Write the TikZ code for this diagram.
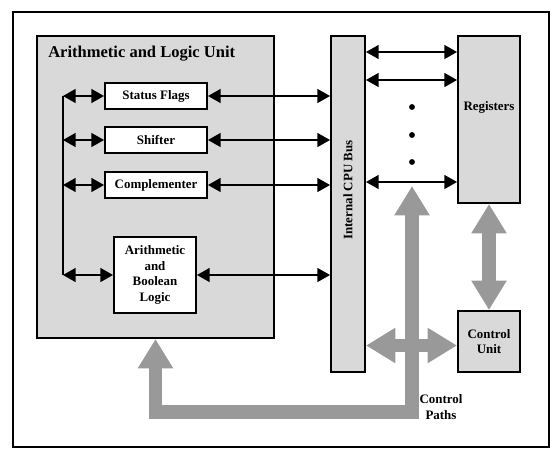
\documentclass[tikz,border=0pt]{standalone}
\usepackage{fontspec}
\setmainfont{Liberation Serif}
\usetikzlibrary{arrows.meta}

\definecolor{boxgray}{RGB}{217,217,217}
\definecolor{pathgray}{RGB}{153,153,153}
\newcommand{\labfont}{\fontsize{9.7}{11.6}\selectfont\bfseries}
\newcommand{\titlefont}{\fontsize{12.4}{14}\selectfont\bfseries}

\begin{document}
\begin{tikzpicture}[x=0.75pt, y=-0.75pt,
    unit/.style={draw, line width=1.5pt, fill=boxgray, inner sep=0pt, font=\labfont, align=center},
    part/.style={draw, line width=1.5pt, fill=white, inner sep=0pt, font=\labfont, align=center,
                 minimum width=76.5pt, minimum height=19.5pt},
    dbl/.style={line width=1.1pt, {Triangle[length=9.5pt,width=10.5pt]}-{Triangle[length=9.5pt,width=10.5pt]}},
    fat/.style={draw=pathgray, line width=10pt, line join=miter,
                {Triangle[length=22pt,width=25pt]}-{Triangle[length=22pt,width=25pt]}}]
        \useasboundingbox (0,0) rectangle (560,464);

        % Outer frame
        \draw[line width=1.5pt] (13,12) rectangle (549,447);

        % Arithmetic and logic unit
        \node[unit, minimum width=177.75pt, minimum height=226.5pt] (alu) at (155.5,187) {};
        \node[anchor=base west, font=\titlefont, inner sep=0pt] (alutitle) at (48,57) {Arithmetic and Logic Unit};

        % Internal bus, registers and control unit
        \node[unit, minimum width=25.5pt, minimum height=252pt] (bus) at (348,204) {};
        \node[rotate=90, font=\labfont] (buslabel) at (348,190) {Internal CPU Bus};
        \node[unit, minimum width=46.5pt, minimum height=125.25pt] (regs) at (489,119.5) {};
        \node[font=\labfont] (reglabel) at (489,107) {Registers};
        \node[unit, minimum width=46.5pt, minimum height=45.75pt] (cu) at (489,341.5) {Control\\Unit};

        % Parts of the ALU
        \node[part] (flags) at (156,96) {Status Flags};
        \node[part] (shift) at (156,140) {Shifter};
        \node[part] (compl) at (156,185) {Complementer};
        \node[part, minimum width=61.5pt, minimum height=57pt] (logic) at (155,275) {Arithmetic\\and\\Boolean\\Logic};

        % Local line on the left
        \coordinate (ltop) at (63,96);
        \coordinate (lbot) at (63,275);
        \draw[line width=1.1pt] (ltop) -- (lbot);
        \draw[dbl] (ltop) -- (flags.west);
        \draw[dbl] (ltop |- shift.west) -- (shift.west);
        \draw[dbl] (ltop |- compl.west) -- (compl.west);
        \draw[dbl] (lbot) -- (logic.west);

        % Links to the bus
        \foreach \p in {flags,shift,compl,logic}
            \draw[dbl] (\p.east) -- (\p.east -| bus.west);
        \foreach \y in {52,80,182}
            \draw[dbl] (bus.east |- 0,\y) -- (regs.west |- 0,\y);
        \foreach \y in {107,135,162}
            \fill (412,\y) circle (2.2pt);

        % Control paths
        \coordinate (cp) at (412,186);
        \draw[fat] (regs.south) -- (cu.north);
        \draw[fat] ([yshift=-3pt]bus.east |- cu.west) -- ([yshift=-3pt]cu.west);
        \draw[fat] (cp) -- (cp |- 0,412) -- (alu.south |- 0,412) -- (alu.south);
        \node[font=\labfont, align=center, inner sep=0pt] (cplabel) at (441,407) {Control\\Paths};
\end{tikzpicture}
\end{document}
